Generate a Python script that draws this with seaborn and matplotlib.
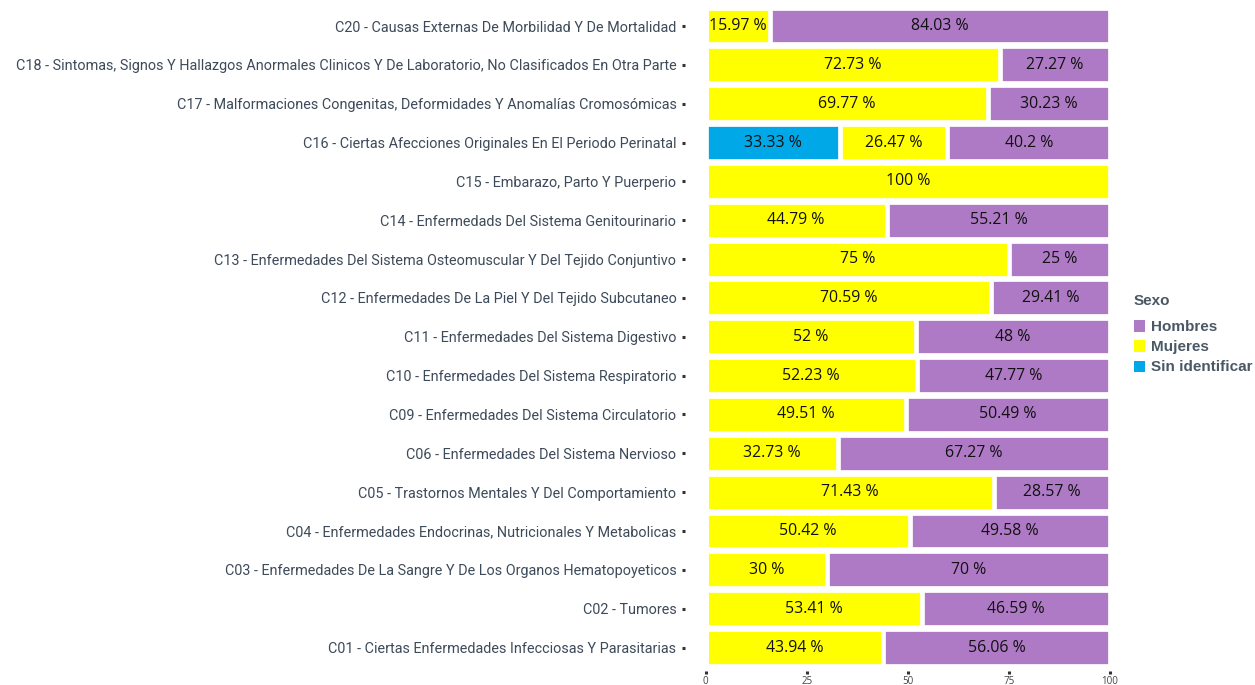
import matplotlib
matplotlib.use("Agg")
import matplotlib.pyplot as plt
import seaborn as sns
import pandas as pd
from matplotlib.patches import Patch

categories = [
    "C20 - Causas Externas De Morbilidad Y De Mortalidad",
    "C18 - Sintomas, Signos Y Hallazgos Anormales Clinicos Y De Laboratorio, No Clasificados En Otra Parte",
    "C17 - Malformaciones Congenitas, Deformidades Y Anomalías Cromosómicas",
    "C16 - Ciertas Afecciones Originales En El Periodo Perinatal",
    "C15 - Embarazo, Parto Y Puerperio",
    "C14 - Enfermedads Del Sistema Genitourinario",
    "C13 - Enfermedades Del Sistema Osteomuscular Y Del Tejido Conjuntivo",
    "C12 - Enfermedades De La Piel Y Del Tejido Subcutaneo",
    "C11 - Enfermedades Del Sistema Digestivo",
    "C10 - Enfermedades Del Sistema Respiratorio",
    "C09 - Enfermedades Del Sistema Circulatorio",
    "C06 - Enfermedades Del Sistema Nervioso",
    "C05 - Trastornos Mentales Y Del Comportamiento",
    "C04 - Enfermedades Endocrinas, Nutricionales Y Metabolicas",
    "C03 - Enfermedades De La Sangre Y De Los Organos Hematopoyeticos",
    "C02 - Tumores",
    "C01 - Ciertas Enfermedades Infecciosas Y Parasitarias",
]
sin_identificar = [0, 0, 0, 33.33, 0, 0, 0, 0, 0, 0, 0, 0, 0, 0, 0, 0, 0]
mujeres = [15.97, 72.73, 69.77, 26.47, 100, 44.79, 75, 70.59, 52, 52.23,
           49.51, 32.73, 71.43, 50.42, 30, 53.41, 43.94]
hombres = [84.03, 27.27, 30.23, 40.2, 0, 55.21, 25, 29.41, 48, 47.77,
           50.49, 67.27, 28.57, 49.58, 70, 46.59, 56.06]
x_ticks = [0, 25, 50, 75, 100]

colors = {"Hombres": "#AF7AC5", "Mujeres": "#FFFF00", "Sin identificar": "#00A8E8"}

df = pd.DataFrame({
    "cat": categories,
    "si": sin_identificar,
    "m": mujeres,
    "h": hombres,
})
df["cum_si"] = df["si"]
df["cum_m"] = df["si"] + df["m"]
df["cum_h"] = df["si"] + df["m"] + df["h"]

sns.set_style("white")
plt.rcParams["font.family"] = ["Open Sans", "DejaVu Sans"]

fig = plt.figure(figsize=(12.55, 6.85), dpi=100)
ax = fig.add_axes([0.5622, 0.0207, 0.3223, 0.9753])

lw = 3.4
bw = 0.95
for col, name in [("cum_h", "Hombres"), ("cum_m", "Mujeres"), ("cum_si", "Sin identificar")]:
    sns.barplot(data=df, y="cat", x=col, order=categories, orient="h",
                color=colors[name], saturation=1, width=bw,
                edgecolor="white", linewidth=lw, ax=ax)

# value labels at segment centres
for i, row in df.iterrows():
    start = 0
    for key in ["si", "m", "h"]:
        v = row[key]
        if v > 0:
            lab = f"{v:g} %"
            ax.text(start + v / 2, i, lab, ha="center", va="center",
                    fontsize=11.4, color="#111111")
        start += v

ax.set_xlim(0, 100)
ax.set_ylim(16.6, -0.6)
ax.set_xticks(x_ticks)
ax.set_xticklabels([str(t) for t in x_ticks])
ax.set_xlabel("")
ax.set_ylabel("")
for s in ax.spines.values():
    s.set_visible(False)
ax.spines["left"].set_position(("outward", 15))
ax.tick_params(axis="y", which="both", left=True, length=2, width=2.2,
               color="#333333", pad=4, labelsize=10.4, labelcolor="#3d4a5a")
ax.tick_params(axis="x", which="both", bottom=True, length=2, width=2.2,
               color="#333333", pad=2, labelsize=7, labelcolor="#444444")
for t in ax.get_yticklabels():
    t.set_fontfamily(["Roboto", "DejaVu Sans"])
ax.grid(False)

handles = [Patch(facecolor=colors[n], edgecolor="none", label=n)
           for n in ["Hombres", "Mujeres", "Sin identificar"]]
fp = {"family": ["Liberation Sans", "DejaVu Sans"], "weight": "bold", "size": 11}
leg = fig.legend(handles=handles, title="Sexo", loc="upper left",
                 bbox_to_anchor=(1120 / 1255, 1 - 280 / 685), frameon=False,
                 handlelength=0.75, handleheight=0.75, handletextpad=0.4,
                 labelspacing=0.4, alignment="left",
                 prop=fp, title_fontproperties=fp)
leg._legend_box.sep = 9
for t in leg.get_texts():
    t.set_color("#4a5866")
leg.get_title().set_color("#4a5866")

fig.savefig("out.png", dpi=100)
